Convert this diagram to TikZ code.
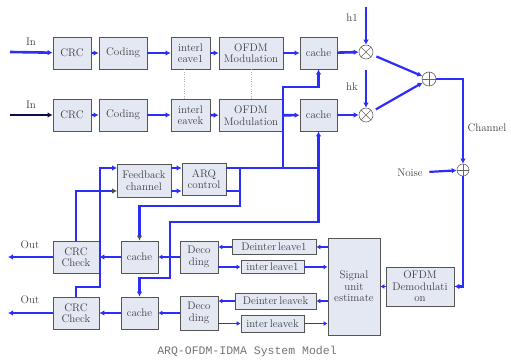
\documentclass[tikz,border=0pt]{standalone}
\usepackage{fontspec}
\newfontfamily\capfont{Liberation Mono}
\usetikzlibrary{arrows.meta,positioning,calc}
\definecolor{wireblue}{RGB}{45,45,250}
\definecolor{boxfill}{RGB}{228,232,243}
\definecolor{boxline}{RGB}{85,85,85}

\begin{document}
\begin{tikzpicture}[
  x=1pt, y=-1pt,
  >={Latex[length=5pt,width=5.5pt]},
  every node/.style={font=\fontsize{11}{11.5}\selectfont, text=black!75},
  blk/.style={draw=boxline, fill=boxfill, line width=.8pt, align=center, inner sep=1pt},
  sz/.style 2 args={minimum width=#1pt, minimum height=#2pt},
  mult/.style={circle, draw=black!60, fill=white, line width=.6pt, minimum size=14pt, inner sep=0pt,
    path picture={\draw[black!60, line width=.6pt]
      ([shift={(45:7pt)}]path picture bounding box.center) -- ([shift={(225:7pt)}]path picture bounding box.center)
      ([shift={(135:7pt)}]path picture bounding box.center) -- ([shift={(-45:7pt)}]path picture bounding box.center);}},
  adder/.style={circle, draw=black!60, fill=white, line width=.6pt, minimum size=14pt, inner sep=0pt,
    path picture={\draw[black!60, line width=.6pt]
      (path picture bounding box.north) -- (path picture bounding box.south)
      (path picture bounding box.west) -- (path picture bounding box.east);}},
  flow/.style={->, draw=wireblue, line width=2.6pt},
  link/.style={draw=wireblue, line width=2.2pt},
  thin link/.style={->, draw=wireblue, line width=1.8pt, >={Latex[length=4pt,width=5pt]}},
  darktip/.style={-{Latex[length=5pt,width=5.5pt,color=black!70]}}
]
  \useasboundingbox (0,0) rectangle (511,363);

  % transmitter, user 1
  \node[blk, sz={38}{32}] (crcA) at (72,53) {CRC};
  \node[blk, sz={48}{32}] (codA) at (123,53) {Coding};
  \node[blk, sz={39}{32}] (ilvA) at (190.5,53) {interl\\eave1};
  \node[blk, sz={64}{32}] (ofdmA) at (251,53) {OFDM\\Modulation};
  \node[blk, sz={37}{32}] (cacheA) at (318.5,53) {cache};
  \node[mult] (mulA) at (366,52) {};

  % transmitter, user k
  \node[blk, sz={38}{32}] (crcB) at (72,115) {CRC};
  \node[blk, sz={48}{32}] (codB) at (123,115) {Coding};
  \node[blk, sz={39}{32}] (ilvB) at (190.5,115) {interl\\eavek};
  \node[blk, sz={64}{32}] (ofdmB) at (251,115.5) {OFDM\\Modulation};
  \node[blk, sz={37}{32}] (cacheB) at (318.5,115) {cache};
  \node[mult] (mulB) at (366,115) {};

  \node[adder] (sum) at (429,79) {};
  \node[adder, minimum size=12pt] (noise) at (463,170) {};

  \node (inLblA) at (31,42) {In};
  \node (inLblB) at (31,105) {In};
  \node (hLblA) at (352,18) {h1};
  \node (hLblB) at (352,87) {hk};
  \node (chanLbl) at (487,128) {Channel};
  \node (noiseLbl) at (410,173) {Noise};
  \node (outLblA) at (30,245) {Out};
  \node (outLblB) at (30,300) {Out};

  % receiver
  \node[blk, sz={46}{32}] (chkA) at (76,257) {CRC\\Check};
  \node[blk, sz={46}{32}] (chkB) at (76,313) {CRC\\Check};
  \node[blk, sz={37}{32}] (cacheC) at (139.5,257) {cache};
  \node[blk, sz={37}{32}] (cacheD) at (139.5,313) {cache};
  \node[blk, sz={38}{32}] (decA) at (199,257) {Deco\\ding};
  \node[blk, sz={38}{34}] (decB) at (199,313) {Deco\\ding};
  \node[blk, sz={84}{15}] (dilA) at (274,247) {Deinter\,leave1};
  \node[blk, sz={63}{13}] (ilA) at (272.5,267) {inter\,leave1};
  \node[blk, sz={81}{16}] (dilB) at (275.5,301) {Deinter\,leavek};
  \node[blk, sz={63}{17}] (ilB) at (272.5,323.5) {inter\,leavek};
  \node[blk, sz={52}{97}] (sue) at (354,286.5) {Signal\\unit\\estimate};
  \node[blk, sz={68}{39}] (demod) at (420,286.5) {OFDM\\Demodulati\\on};
  \node[blk, sz={54}{33}] (fb) at (144,180.5) {Feedback\\channel};
  \node[blk, sz={44}{32}] (arq) at (204,179) {ARQ\\control};

  \node[font=\capfont\fontsize{11.5}{12}\selectfont, text=black!55] (caption) at (247,352) {ARQ-OFDM-IDMA System Model};

  \coordinate (inA) at (10,52);
  \coordinate (inB) at (10,115);
  \coordinate (hTopA) at (366,7);
  \coordinate (hTopB) at (366,70);
  \coordinate (outA) at (8,257);
  \coordinate (outB) at (8,313);
  \coordinate (fbT) at (117,168);
  \coordinate (fbB) at (117,191);
  \coordinate (jA) at (100,287);
  \coordinate (arqT) at (226,168);
  \coordinate (arqB) at (226,191);
  \coordinate (jB) at (283,168);
  \coordinate (jC) at (318.5,87);
  \coordinate (jD) at (318.5,168);
  \coordinate (jE) at (170,222);
  \coordinate (jF) at (139.5,278);
  \coordinate (jG) at (240,168);
  \coordinate (jH) at (240,191);
  \coordinate (jI) at (139.5,206);

  % transmit chains
  \draw[flow] (inA) -- (crcA);
  \draw[flow] (crcA) -- (codA);
  \draw[flow] (codA) -- (ilvA);
  \draw[flow] (ilvA) -- (ofdmA);
  \draw[flow] (ofdmA) -- (cacheA);
  \draw[flow] (cacheA) -- (mulA);
  \draw[flow, draw=black!70!wireblue] (inB) -- (crcB);
  \draw[flow] (crcB) -- (codB);
  \draw[flow] (codB) -- (ilvB);
  \draw[flow] (ilvB) -- (ofdmB);
  \draw[flow] (ofdmB) -- (cacheB);
  \draw[flow] (cacheB) -- (mulB);
  \draw[dotted, black!30] ([xshift=-6.5pt]ilvA.south) -- ([xshift=-6.5pt]ilvB.north);
  \draw[dotted, black!30] (ofdmA.south) -- (ofdmB.north);

  \draw[link, ->] (hTopA) -- (mulA);
  \draw[link, ->] (hTopB) -- (mulB);
  \draw[link, ->, shorten <=4pt] (mulA) -- (sum);
  \draw[link, ->, shorten <=4pt] (mulB) -- (sum);

  % channel
  \draw[link, ->] (sum.east) -| (noise.north);
  \draw[link, ->, shorten <=3pt] (noiseLbl) -- (noise);
  \draw[link, ->] (noise.south) |- (demod.east);

  % receiver chain
  \draw[thin link] (demod) -- (sue);
  \draw[thin link] (sue.west |- dilA.east) -- (dilA.east);
  \draw[thin link] (ilA.east) -- (sue.west |- ilA.east);
  \draw[thin link] (sue.west |- dilB.east) -- (dilB.east);
  \draw[thin link] (ilB.east) -- (sue.west |- ilB.east);
  \draw[thin link] (dilA.west) -- (dilA.west -| decA.east);
  \draw[thin link] (ilA.west -| decA.east) -- (ilA.west);
  \draw[thin link] (dilB.west) -- (dilB.west -| decB.east);
  \draw[thin link] (ilB.west -| decB.east) -- (ilB.west);
  \draw[thin link] (decA) -- (cacheC);
  \draw[thin link] (decB) -- (cacheD);
  \draw[link, ->] (cacheC) -- (chkA);
  \draw[link, ->] (cacheD) -- (chkB);
  \draw[link, ->] (chkA) -- (outA);
  \draw[link, ->] (chkB) -- (outB);

  % feedback and retransmission
  \draw[link, ->] (chkB.north) |- (jA) |- (fbT);
  \draw[link, darktip] (chkA.north) |- (fbB);
  \draw[link, ->] (fb.east |- fbT) -- (arq.west |- fbT);
  \draw[link, ->] (fb.east |- fbB) -- (arq.west |- fbB);
  \draw[link, ->] (arqT) -| (cacheB.south);
  \draw[link, ->] (jB) |- (jC) -- (cacheA.south);
  \draw[link, ->] (jD) |- (jE) |- (jF) -- (cacheD.north);
  \draw[link] (arqB) -- (jH);
  \draw[link, darktip] (jG) |- (jI) -- (cacheC.north);
\end{tikzpicture}
\end{document}
